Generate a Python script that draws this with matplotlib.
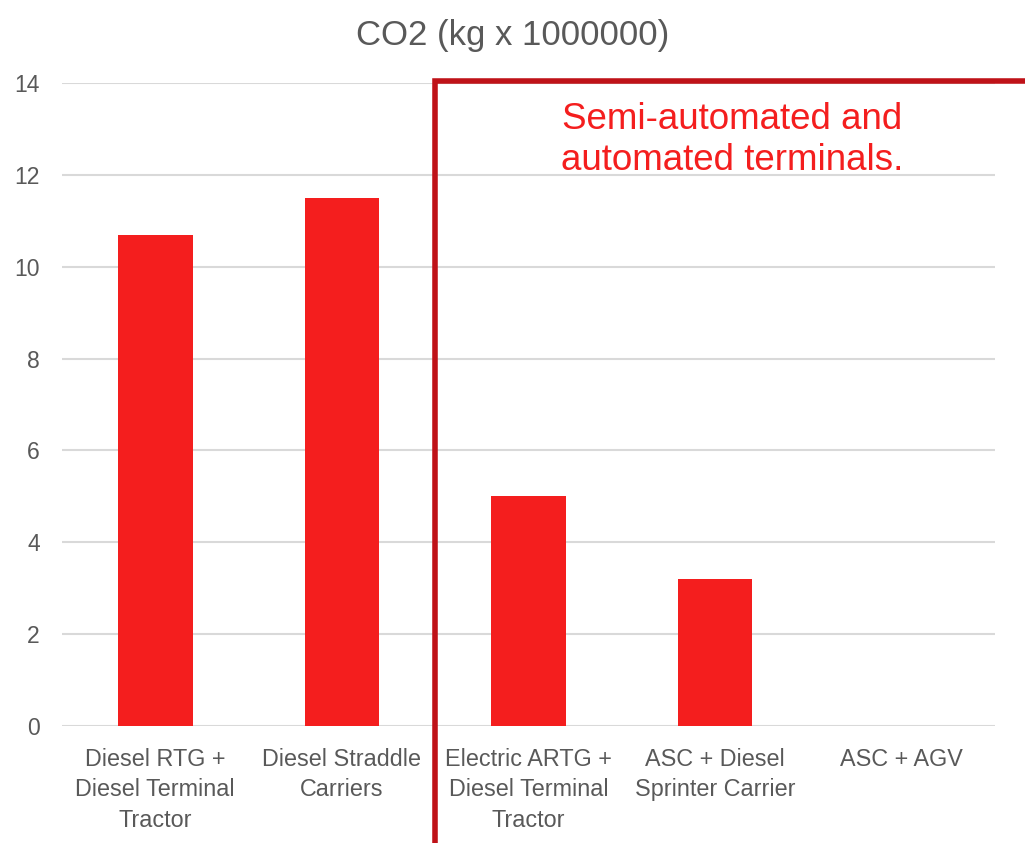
import matplotlib
matplotlib.use("Agg")
from matplotlib import pyplot as plt
from matplotlib.lines import Line2D

categories = ["Diesel RTG +\nDiesel Terminal\nTractor", "Diesel Straddle\nCarriers",
              "Electric ARTG +\nDiesel Terminal\nTractor", "ASC + Diesel\nSprinter Carrier",
              "ASC + AGV"]
co2 = [10.7, 11.5, 5.0, 3.2, 0]
yticks = [0, 2, 4, 6, 8, 10, 12, 14]

plt.rcParams['font.family'] = ['Liberation Sans', 'DejaVu Sans']
grey = '#595959'

fig = plt.figure(figsize=(10.25, 8.43), dpi=100)
ax = fig.add_axes([0.0605, 0.1388, 0.9102, 0.7627])

x = range(len(categories))
ax.bar(x, co2, width=0.4, color='#F41E1E', zorder=3)
ax.set_xlim(-0.5, len(categories) - 0.5)
ax.set_ylim(0, 14)
ax.set_yticks(yticks)
ax.set_xticks(list(x))
ax.set_xticklabels(categories, fontsize=16.8, color=grey, linespacing=1.4)
ax.tick_params(axis='y', labelsize=16.5, labelcolor=grey, length=0, pad=16)
ax.tick_params(axis='x', length=0, pad=16)
ax.grid(axis='y', color='#D9D9D9', linewidth=1.5, zorder=0)
for s in ax.spines.values():
    s.set_visible(False)

fig.text(0.5, 0.958, "CO2 (kg x 1000000)", ha='center', va='center', fontsize=25, color=grey)

# box marking the semi-automated section
red = '#BF1218'
fig.lines.append(Line2D([0.4245, 0.4245, 1.0], [0.0, 0.9035, 0.9035], transform=fig.transFigure,
                        color=red, linewidth=4, solid_joinstyle='miter'))
fig.text(0.714, 0.834, "Semi-automated and\nautomated terminals.", ha='center', va='center',
         fontsize=26.5, color='#F41E1E', linespacing=1.24)

fig.savefig("out.png", dpi=100)
